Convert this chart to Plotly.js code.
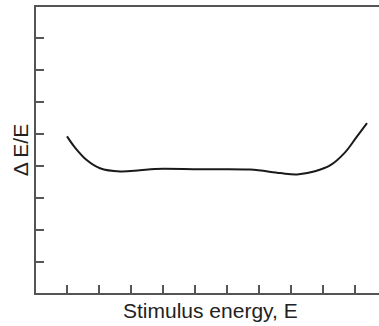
<!DOCTYPE html>
<html>
<head>
<meta charset="utf-8">
<script src="https://cdn.plot.ly/plotly-3.0.1.min.js"></script>
<style>html,body{margin:0;padding:0;background:#fff;}#chart{width:379px;height:326px;}</style>
</head>
<body>
<div id="chart"></div>
<script>
// Stimulus energy (arbitrary units) and Weber fraction ΔE/E
const energy = [1.0, 1.25, 1.625, 2.03, 2.66, 3.28, 3.75, 5.16, 6.72, 7.66, 8.19, 8.75, 9.22, 9.69, 10.03, 10.375];
const weber  = [4.93, 4.58, 4.18, 3.93, 3.83, 3.87, 3.91, 3.90, 3.89, 3.78, 3.74, 3.84, 4.02, 4.43, 4.88, 5.34];
const xTicks = [1, 2, 3, 4, 5, 6, 7, 8, 9, 10];
const yTicks = [1, 2, 3, 4, 5, 6, 7, 8];
const xLabel = 'Stimulus energy, E';
const yLabel = 'Δ E/E';

const axisColor = '#555555';
const font = {family: 'Liberation Sans, Arial, sans-serif', size: 21, color: '#222222'};

const trace = {
  x: energy, y: weber, type: 'scatter', mode: 'lines',
  line: {color: '#1a1a1a', width: 2, shape: 'spline', smoothing: 1},
  hoverinfo: 'skip'
};

const layout = {
  width: 379, height: 326,
  margin: {l: 36, r: 0, t: 6.5, b: 33.2},
  paper_bgcolor: '#ffffff', plot_bgcolor: '#ffffff',
  showlegend: false,
  font: font,
  xaxis: {
    range: [0.031, 10.75], tickvals: xTicks, showticklabels: false,
    ticks: 'inside', ticklen: 8, tickwidth: 1.5, tickcolor: axisColor,
    showline: true, linecolor: axisColor, linewidth: 2, mirror: true,
    showgrid: false, zeroline: false, fixedrange: true
  },
  yaxis: {
    range: [0.03, 8.975], tickvals: yTicks, showticklabels: false,
    ticks: 'inside', ticklen: 8, tickwidth: 1.5, tickcolor: axisColor,
    showline: true, linecolor: axisColor, linewidth: 2, mirror: false,
    showgrid: false, zeroline: false, fixedrange: true
  },
  annotations: [
    {text: xLabel, xref: 'paper', yref: 'paper', x: 0.5087, y: -0.0611,
     xanchor: 'center', yanchor: 'middle', showarrow: false, font: font},
    {text: yLabel, xref: 'paper', yref: 'paper', x: -0.0466, y: 0.4988, textangle: -90,
     xanchor: 'center', yanchor: 'middle', showarrow: false, font: font}
  ]
};

Plotly.newPlot('chart', [trace], layout, {staticPlot: true, displayModeBar: false});
</script>
</body>
</html>
